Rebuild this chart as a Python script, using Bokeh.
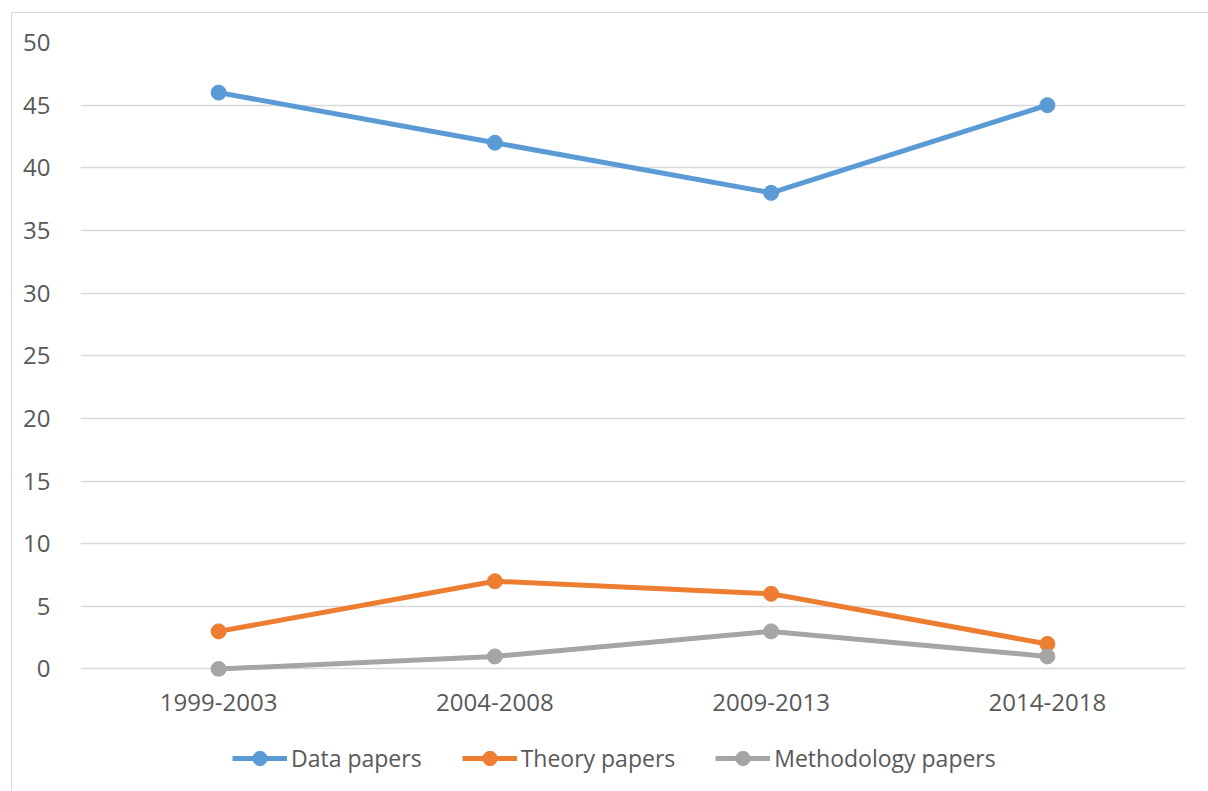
from bokeh.plotting import figure
from bokeh.layouts import column
from bokeh.models import FactorRange, Range1d, Legend, LegendItem, SingleIntervalTicker
from bokeh.embed import file_html
from bokeh.resources import INLINE

periods = ["1999-2003", "2004-2008", "2009-2013", "2014-2018"]
data_papers = [46, 42, 38, 45]
theory_papers = [3, 7, 6, 2]
methodology_papers = [0, 1, 3, 1]
series_names = ["Data papers", "Theory papers", "Methodology papers"]
series_values = [data_papers, theory_papers, methodology_papers]
colors = ["#5B9BD5", "#ED7D31", "#A5A5A5"]

FONT = "Open Sans"
TXT = "#595959"
LW = 5
MS = 15

p = figure(
    x_range=FactorRange(factors=periods),
    y_range=Range1d(-0.6, 50),
    width=1196, height=711,
    output_backend="svg", toolbar_location=None,
    min_border_left=68, min_border_right=23,
    min_border_top=29, min_border_bottom=48,
)
p.outline_line_color = None
p.background_fill_color = "white"
p.border_fill_color = "white"

p.xgrid.grid_line_color = None
p.ygrid.grid_line_color = "#D9D9D9"
p.ygrid.grid_line_width = 1.3

p.yaxis.ticker = SingleIntervalTicker(interval=5)
for ax in (p.xaxis[0], p.yaxis[0]):
    ax.axis_line_color = None
    ax.major_tick_line_color = None
    ax.minor_tick_line_color = None
    ax.major_label_text_font = FONT
    ax.major_label_text_font_size = "24px"
    ax.major_label_text_color = TXT
p.yaxis.major_label_standoff = 24
p.xaxis.major_label_standoff = 11

for vals, col in zip(series_values, colors):
    p.line(periods, vals, line_color=col, line_width=LW)
    p.scatter(periods, vals, marker="circle", size=MS, fill_color=col, line_color=col)

# legend strip below the chart (its own series glyphs sit outside its visible range)
lg = figure(
    width=1196, height=66,
    x_range=FactorRange(factors=periods), y_range=Range1d(1000, 1001),
    x_axis_type=None, y_axis_type=None,
    output_backend="svg", toolbar_location=None, min_border=0,
)
lg.outline_line_color = None
lg.grid.grid_line_color = None
lg.border_fill_color = "white"
items = []
for name, vals, col in zip(series_names, series_values, colors):
    r1 = lg.line(periods, vals, line_color=col, line_width=LW)
    r2 = lg.scatter(periods, vals, marker="circle", size=MS, fill_color=col, line_color=col)
    items.append(LegendItem(label=name, renderers=[r1, r2]))

legend = Legend(items=items, orientation="horizontal", location=(152, 14))
legend.border_line_color = None
legend.background_fill_alpha = 0
legend.label_text_font = FONT
legend.label_text_font_size = "23px"
legend.label_text_color = TXT
legend.glyph_width = 55
legend.glyph_height = 36
legend.label_height = 36
legend.label_standoff = 4
legend.spacing = 40
legend.padding = 0
legend.margin = 0
lg.add_layout(legend)

layout = column(p, lg, spacing=0)
layout.margin = (12, 0, 0, 11)
layout.styles = {"border-left": "1px solid #D9D9D9", "border-top": "1px solid #D9D9D9",
                 "background-color": "white"}

open("out.html", "w").write(file_html(layout, INLINE))
